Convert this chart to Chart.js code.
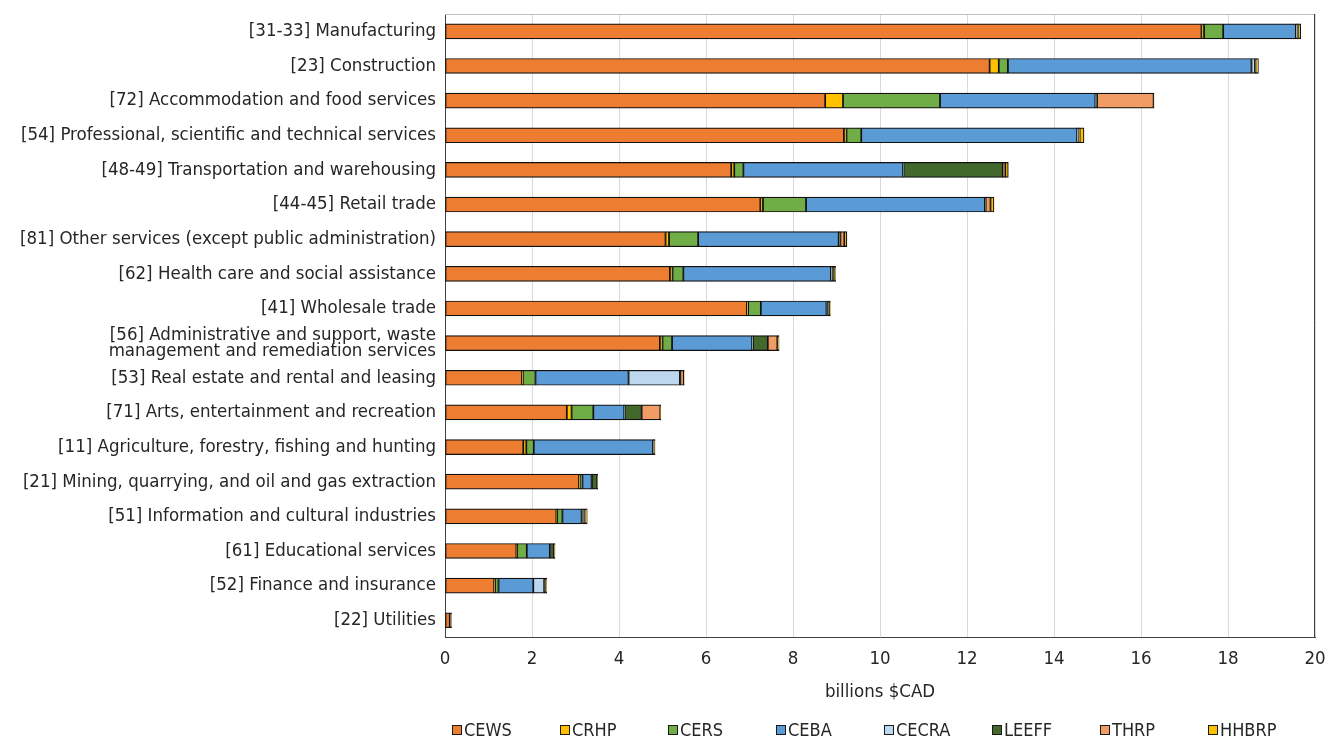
<!DOCTYPE html>
<html>
<head>
<meta charset="utf-8">
<script src="https://cdn.jsdelivr.net/npm/chart.js@4"></script>
<style>
  body { margin: 0; background: #fff; }
  .wrap { position: relative; width: 1327px; height: 740px; }
  .leyenda { position: absolute; left: 452px; top: 719px; display: flex; font-family: "Liberation Sans Narrow", "DejaVu Sans Condensed", sans-serif; font-size: 18px; color: #262626; }
  .leyenda div { width: 108px; display: flex; align-items: center; }
  .leyenda span.caja { width: 8px; height: 8px; border: 1px solid #1a1a1a; margin-right: 2px; display: inline-block; }
</style>
</head>
<body>
<div class="wrap">
  <canvas id="myChart" width="1327" height="740"></canvas>
  <div class="leyenda" id="leyenda"></div>
</div>
<script>
const categorias = [
  '[31-33] Manufacturing',
  '[23] Construction',
  '[72] Accommodation and food services',
  '[54] Professional, scientific and technical services',
  '[48-49] Transportation and warehousing',
  '[44-45] Retail trade',
  '[81] Other services (except public administration)',
  '[62] Health care and social assistance',
  '[41] Wholesale trade',
  ['[56] Administrative and support, waste', 'management and remediation services'],
  '[53] Real estate and rental and leasing',
  '[71] Arts, entertainment and recreation',
  '[11] Agriculture, forestry, fishing and hunting',
  '[21] Mining, quarrying, and oil and gas extraction',
  '[51] Information and cultural industries',
  '[61] Educational services',
  '[52] Finance and insurance',
  '[22] Utilities'
]

// billions $CAD per program
const cews  = [17.39, 12.52, 8.74, 9.17, 6.58, 7.25, 5.07, 5.17, 6.94, 4.94, 1.77, 2.80, 1.80, 3.08, 2.56, 1.64, 1.13, 0.11]
const crhp  = [0.06, 0.21, 0.41, 0.06, 0.07, 0.06, 0.08, 0.06, 0.03, 0.06, 0.02, 0.11, 0.07, 0.02, 0.02, 0.02, 0.02, 0]
const cers  = [0.44, 0.21, 2.23, 0.34, 0.21, 0.99, 0.67, 0.25, 0.29, 0.22, 0.29, 0.50, 0.17, 0.06, 0.12, 0.22, 0.08, 0]
const ceba  = [1.67, 5.60, 3.57, 4.96, 3.67, 4.11, 3.23, 3.39, 1.51, 1.84, 2.14, 0.71, 2.74, 0.21, 0.44, 0.53, 0.80, 0]
const cecra = [0.02, 0.08, 0.02, 0.02, 0.01, 0.01, 0.01, 0.02, 0.02, 0.02, 1.18, 0.01, 0.01, 0.01, 0.02, 0.01, 0.25, 0]
const leeff = [0.02, 0.02, 0.02, 0.02, 2.28, 0.01, 0.03, 0.06, 0.05, 0.34, 0.01, 0.39, 0.02, 0.12, 0.04, 0.08, 0.04, 0.03]
const thrp  = [0.02, 0.02, 1.30, 0.02, 0.06, 0.11, 0.09, 0.02, 0.01, 0.22, 0.08, 0.43, 0.01, 0.01, 0.04, 0.02, 0.01, 0.01]
const hhbrp = [0.05, 0.04, 0.01, 0.10, 0.07, 0.08, 0.06, 0.01, 0.01, 0.04, 0.01, 0.01, 0.01, 0, 0.03, 0.01, 0.01, 0]

const nombres = ['CEWS', 'CRHP', 'CERS', 'CEBA', 'CECRA', 'LEEFF', 'THRP', 'HHBRP']
const colores = ['#ED7D31', '#FFC000', '#70AD47', '#5B9BD5', '#BDD7EE', '#43682B', '#F19C65', '#FFC000']
const series = [cews, crhp, cers, ceba, cecra, leeff, thrp, hhbrp]

const fuente = '"Liberation Sans Narrow", "DejaVu Sans Condensed", sans-serif'

let datasets = []
for (let i = 0; i < series.length; i++) {
  datasets.push({
    label: nombres[i],
    data: series[i],
    backgroundColor: colores[i],
    borderColor: '#111111',
    borderWidth: 1.2,
    borderSkipped: false,
    barThickness: 15
  })
}

// border around the plot area
const marco = {
  id: 'marco',
  afterDatasetsDraw(chart) {
    const a = chart.chartArea
    const ctx = chart.ctx
    ctx.save()
    ctx.lineWidth = 1
    ctx.strokeStyle = '#bfbfbf'
    ctx.beginPath()
    ctx.moveTo(a.left, a.top + 0.5)
    ctx.lineTo(a.right, a.top + 0.5)
    ctx.stroke()
    ctx.strokeStyle = '#404040'
    ctx.beginPath()
    ctx.moveTo(a.right - 0.5, a.top)
    ctx.lineTo(a.right - 0.5, a.bottom)
    ctx.stroke()
    ctx.restore()
  }
}

const myChart = new Chart(document.getElementById('myChart'), {
  type: 'bar',
  data: { labels: categorias, datasets: datasets },
  plugins: [marco],
  options: {
    indexAxis: 'y',
    responsive: false,
    animation: false,
    layout: { padding: { top: 14, right: 0, bottom: 37, left: 0 } },
    plugins: {
      legend: { display: false },
      tooltip: { enabled: false }
    },
    scales: {
      x: {
        stacked: true,
        min: 0,
        max: 20,
        afterFit: (scale) => { scale.paddingRight = 12; scale.paddingLeft = 0 },
        ticks: { stepSize: 2, color: '#262626', font: { family: fuente, size: 18.5 }, padding: 10 },
        grid: { color: '#d9d9d9', drawTicks: false },
        border: { color: '#404040', width: 1 },
        title: { display: true, text: 'billions $CAD', color: '#262626', font: { family: fuente, size: 18.5 }, padding: { top: 1, bottom: 0 } }
      },
      y: {
        stacked: true,
        afterFit: (scale) => { scale.width = 445; scale.paddingTop = 0; scale.paddingBottom = 0 },
        ticks: { color: '#262626', font: { family: fuente, size: 18.5, lineHeight: 0.9 }, padding: 9, autoSkip: false },
        grid: { display: false, drawTicks: false },
        border: { color: '#404040', width: 1 }
      }
    }
  }
})

const leyenda = document.getElementById('leyenda')
for (let i = 0; i < nombres.length; i++) {
  const item = document.createElement('div')
  const caja = document.createElement('span')
  caja.className = 'caja'
  caja.style.background = colores[i]
  item.appendChild(caja)
  item.appendChild(document.createTextNode(nombres[i]))
  leyenda.appendChild(item)
}
</script>
</body>
</html>
